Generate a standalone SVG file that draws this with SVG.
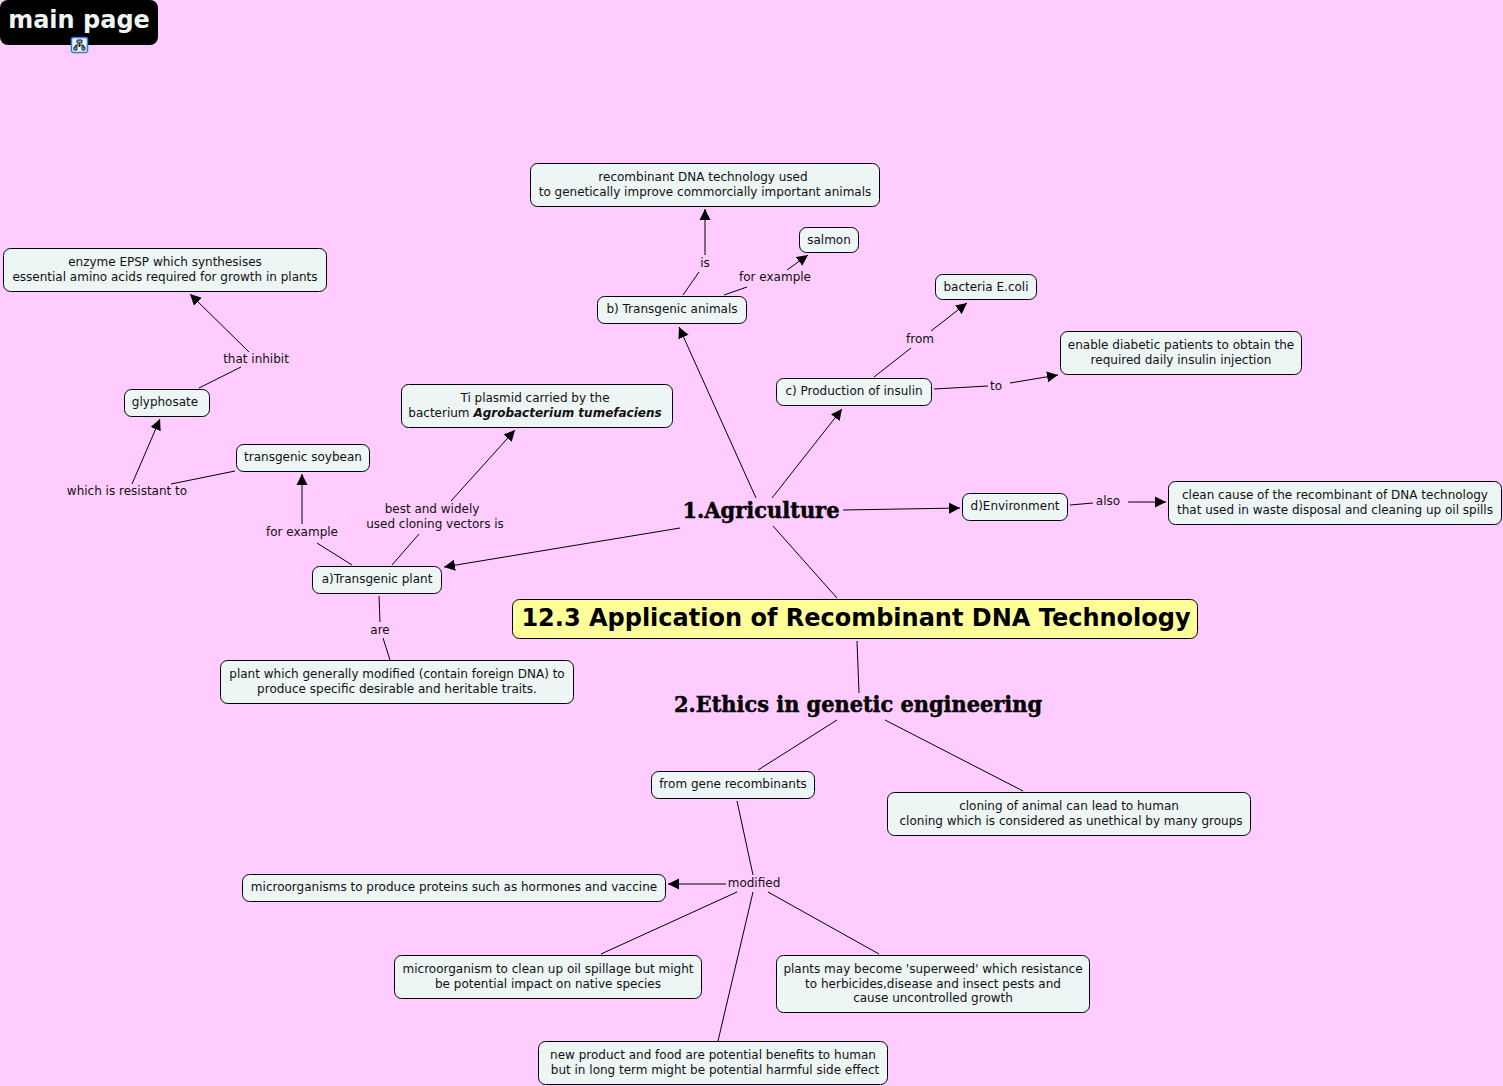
<svg xmlns="http://www.w3.org/2000/svg" width="1503" height="1086" viewBox="0 0 1503 1086">
<style>
.n{fill:#edf5f5;stroke:#000;stroke-width:1}
text{font-family:"DejaVu Sans",Verdana,sans-serif;font-size:12px;fill:#111;text-anchor:middle}
.h{font-family:"DejaVu Serif","Liberation Serif",serif;font-weight:bold;font-size:22px;fill:#000;stroke:#000;stroke-width:.5}
.c line{stroke:#000;stroke-width:1}
.a{marker-end:url(#arr)}
</style>
<defs><marker id="arr" markerUnits="userSpaceOnUse" markerWidth="12" markerHeight="12" refX="11" refY="6" orient="auto"><path d="M0,0.500L11,6L0,11.500Z" fill="#000"/></marker></defs>
<rect width="1503" height="1086" fill="#ffccff"/>
<g id="connectors" class="c">
<line x1="837" y1="598" x2="773" y2="526"/>
<line x1="857" y1="641" x2="859" y2="693"/>
<line class="a" x1="756" y1="498" x2="679" y2="327"/>
<line class="a" x1="772" y1="498" x2="842" y2="409"/>
<line class="a" x1="843" y1="510" x2="960" y2="508"/>
<line class="a" x1="680" y1="528" x2="444" y2="567"/>
<line x1="1070" y1="505" x2="1093" y2="503"/>
<line class="a" x1="1128" y1="502" x2="1166" y2="502"/>
<line x1="683" y1="295" x2="699" y2="272"/>
<line class="a" x1="705" y1="255" x2="705" y2="209"/>
<line x1="724" y1="295" x2="747" y2="287"/>
<line class="a" x1="787" y1="270" x2="808" y2="255"/>
<line x1="874" y1="377" x2="911" y2="348"/>
<line class="a" x1="931" y1="331" x2="967" y2="303"/>
<line x1="934" y1="389" x2="988" y2="386"/>
<line class="a" x1="1010" y1="383" x2="1058" y2="375"/>
<line x1="392" y1="565" x2="419" y2="534"/>
<line class="a" x1="451" y1="501" x2="515" y2="430"/>
<line x1="352" y1="565" x2="317" y2="543"/>
<line class="a" x1="302" y1="524" x2="302" y2="474"/>
<line x1="379" y1="596" x2="380" y2="622"/>
<line x1="383" y1="638" x2="390" y2="660"/>
<line x1="235" y1="471" x2="171" y2="484"/>
<line class="a" x1="132" y1="484" x2="160" y2="419"/>
<line x1="199" y1="388" x2="241" y2="367"/>
<line class="a" x1="249" y1="352" x2="190" y2="294"/>
<line x1="837" y1="720" x2="758" y2="770"/>
<line x1="885" y1="720" x2="1023" y2="791"/>
<line x1="737" y1="801" x2="753" y2="875"/>
<line class="a" x1="726" y1="884" x2="668" y2="884"/>
<line x1="737" y1="892" x2="601" y2="954"/>
<line x1="768" y1="892" x2="879" y2="954"/>
<line x1="753" y1="892" x2="718" y2="1041"/>
</g>
<g id="main-page"><rect x="0" y="0" width="158" height="45" rx="8" fill="#000"/><text x="79" y="28" style="font-weight:bold;font-size:24px;fill:#edf5f5">main page</text></g>
<g id="map-icon"><rect x="71.500" y="37.500" width="16" height="15" rx="2" fill="#eaf3ff" stroke="#2f7fe0" stroke-width="1.500"/><path d="M77,40h5v3h-5zM74,47h3v3h-3zM82,47h3v3h-3zM79.500,43v4M75.500,47v-2h8v2" fill="#8aa" stroke="#223" stroke-width="1"/></g>
<g id="root"><rect x="512.500" y="599.500" width="685" height="39" rx="7" fill="#ffff99" stroke="#000"/><text x="856" y="626" style="font-weight:bold;font-size:24px;fill:#000">12.3 Application of Recombinant DNA Technology</text></g>
<g id="agriculture"><text class="h" x="761" y="518" textLength="157" lengthAdjust="spacingAndGlyphs">1.Agriculture</text></g>
<g id="ethics"><text class="h" x="858" y="712" textLength="368" lengthAdjust="spacingAndGlyphs">2.Ethics in genetic engineering</text></g>
<g id="recombinant-animals"><rect class="n" x="530.500" y="163.500" width="349" height="43" rx="7"/><text x="703" y="181">recombinant DNA technology used</text><text x="705" y="196">to genetically improve commorcially important animals</text></g>
<g id="salmon"><rect class="n" x="799.500" y="227.500" width="59" height="25" rx="7"/><text x="829" y="244">salmon</text></g>
<g id="transgenic-animals"><rect class="n" x="597.500" y="296.500" width="149" height="27" rx="7"/><text x="672" y="313">b) Transgenic animals</text></g>
<g id="ecoli"><rect class="n" x="935.500" y="274.500" width="101" height="25" rx="7"/><text x="986" y="291">bacteria E.coli</text></g>
<g id="diabetic"><rect class="n" x="1060.500" y="331.500" width="241" height="43" rx="7"/><text x="1181" y="349">enable diabetic patients to obtain the</text><text x="1181" y="364">required daily insulin injection</text></g>
<g id="insulin"><rect class="n" x="776.500" y="378.500" width="155" height="27" rx="7"/><text x="854" y="395">c) Production of insulin</text></g>
<g id="environment"><rect class="n" x="962.500" y="493.500" width="105" height="27" rx="7"/><text x="1015" y="510">d)Environment</text></g>
<g id="clean"><rect class="n" x="1168.500" y="481.500" width="333" height="43" rx="7"/><text x="1335" y="499">clean cause of the recombinant of DNA technology</text><text x="1335" y="514">that used in waste disposal and cleaning up oil spills</text></g>
<g id="epsp"><rect class="n" x="3.500" y="248.500" width="323" height="43" rx="7"/><text x="165" y="266">enzyme EPSP which synthesises</text><text x="165" y="281">essential amino acids required for growth in plants</text></g>
<g id="glyphosate"><rect class="n" x="124.500" y="389.500" width="85" height="27" rx="7"/><text x="165" y="406">glyphosate</text></g>
<g id="soybean"><rect class="n" x="236.500" y="444.500" width="133" height="27" rx="7"/><text x="303" y="461">transgenic soybean</text></g>
<g id="ti-plasmid"><rect class="n" x="401.500" y="384.500" width="271" height="43" rx="7"/><text x="535" y="402">Ti plasmid carried by the</text><text x="535" y="417">bacterium <tspan style="font-weight:bold;font-style:italic">Agrobacterium tumefaciens</tspan></text></g>
<g id="transgenic-plant"><rect class="n" x="312.500" y="566.500" width="129" height="27" rx="7"/><text x="377" y="583">a)Transgenic plant</text></g>
<g id="plant-modified"><rect class="n" x="220.500" y="660.500" width="353" height="43" rx="7"/><text x="397" y="678">plant which generally modified (contain foreign DNA) to</text><text x="397" y="693">produce specific desirable and heritable traits.</text></g>
<g id="gene-recombinants"><rect class="n" x="651.500" y="771.500" width="163" height="27" rx="7"/><text x="733" y="788">from gene recombinants</text></g>
<g id="cloning"><rect class="n" x="887.500" y="792.500" width="363" height="43" rx="7"/><text x="1069" y="810">cloning of animal can lead to human</text><text x="1071" y="825">cloning which is considered as unethical by many groups</text></g>
<g id="microorganisms"><rect class="n" x="242.500" y="874.500" width="423" height="27" rx="7"/><text x="454" y="891">microorganisms to produce proteins such as hormones and vaccine</text></g>
<g id="oil"><rect class="n" x="394.500" y="955.500" width="307" height="43" rx="7"/><text x="548" y="973">microorganism to clean up oil spillage but might</text><text x="548" y="988">be potential impact on native species</text></g>
<g id="superweed"><rect class="n" x="776.500" y="955.500" width="313" height="57" rx="7"/><text x="933" y="973">plants may become 'superweed' which resistance</text><text x="933" y="988">to herbicides,disease and insect pests and</text><text x="933" y="1002">cause uncontrolled growth</text></g>
<g id="new-product"><rect class="n" x="538.500" y="1041.500" width="349" height="43" rx="7"/><text x="713" y="1059">new product and food are potential benefits to human</text><text x="715" y="1074">but in long term might be potential harmful side effect</text></g>
<g id="labels">
<text x="705" y="267">is</text><text x="775" y="281">for example</text><text x="920" y="343">from</text><text x="996" y="390">to</text><text x="1108" y="505">also</text><text x="256" y="363">that inhibit</text><text x="127" y="495">which is resistant to</text><text x="302" y="536">for example</text><text x="432" y="513">best and widely</text><text x="435" y="528">used cloning vectors is</text><text x="380" y="634">are</text><text x="754" y="887">modified</text>
</g>
</svg>
